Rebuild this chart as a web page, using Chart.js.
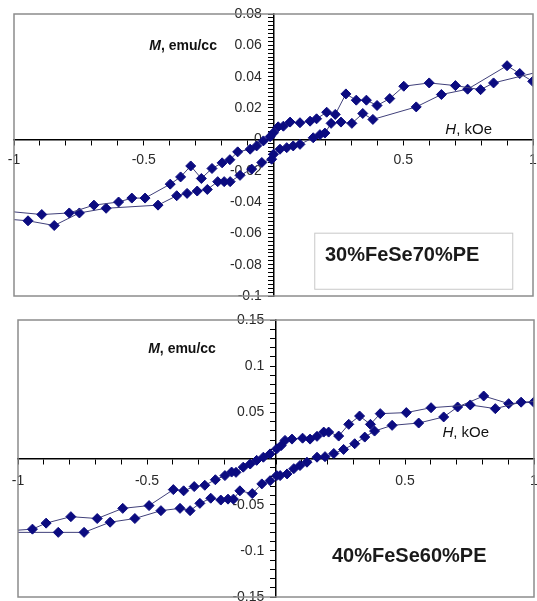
<!DOCTYPE html>
<html>
<head>
<meta charset="utf-8">
<script src="https://cdn.jsdelivr.net/npm/chart.js@4.4.1/dist/chart.umd.min.js"></script>
<style>
  html, body { margin: 0; padding: 0; background: #fff; overflow: hidden; }
  body { width: 537px; height: 601px; position: relative; }
  canvas { position: absolute; left: 0; }
  #topChart { top: 0; }
  #bottomChart { top: 300px; }
</style>
</head>
<body>
<canvas id="topChart" width="552" height="305"></canvas>
<canvas id="bottomChart" width="552" height="310"></canvas>
<script>
// 30%FeSe70%PE: branch coming down from +H (upper) and going up from -H (lower)
const topUpperH = [1.02, 0.848, 0.798, 0.701, 0.600, 0.502, 0.448, 0.399, 0.358, 0.319, 0.279, 0.238, 0.205, 0.166, 0.141, 0.102, 0.064, 0.038, 0.018, 0.0, -0.013, -0.039, -0.065, -0.09, -0.138, -0.168, -0.198, -0.237, -0.278, -0.319, -0.358, -0.398, -0.495, -0.546, -0.597, -0.692, -0.787, -0.893, -1.02];
const topUpperM = [0.043, 0.036, 0.0317, 0.0343, 0.036, 0.0339, 0.026, 0.0216, 0.025, 0.025, 0.029, 0.0159, 0.0173, 0.0131, 0.0116, 0.0106, 0.011, 0.0084, 0.008, 0.0042, 0.0017, -0.001, -0.0042, -0.0063, -0.008, -0.013, -0.015, -0.0186, -0.025, -0.017, -0.024, -0.0286, -0.0375, -0.0375, -0.040, -0.042, -0.047, -0.048, -0.046];
const topLowerH = [-1.02, -0.946, -0.845, -0.748, -0.645, -0.445, -0.373, -0.333, -0.294, -0.255, -0.215, -0.19, -0.167, -0.129, -0.084, -0.045, -0.007, 0.0, 0.025, 0.051, 0.076, 0.102, 0.153, 0.179, 0.198, 0.222, 0.26, 0.302, 0.344, 0.383, 0.550, 0.647, 0.748, 0.900, 0.949, 0.999, 1.02];
const topLowerM = [-0.051, -0.052, -0.055, -0.047, -0.044, -0.042, -0.036, -0.0345, -0.033, -0.032, -0.027, -0.027, -0.027, -0.023, -0.019, -0.0148, -0.0127, -0.0095, -0.0063, -0.0053, -0.0042, -0.0032, 0.001, 0.003, 0.004, 0.0102, 0.011, 0.0102, 0.0165, 0.0127, 0.0207, 0.0286, 0.032, 0.047, 0.042, 0.037, 0.036];

// 40%FeSe60%PE
const botUpperH = [1.02, 0.950, 0.85, 0.753, 0.601, 0.505, 0.404, 0.366, 0.324, 0.282, 0.243, 0.204, 0.185, 0.159, 0.132, 0.103, 0.062, 0.035, 0.02, 0.003, -0.023, -0.049, -0.075, -0.1, -0.127, -0.155, -0.172, -0.198, -0.235, -0.276, -0.317, -0.358, -0.398, -0.492, -0.594, -0.693, -0.795, -0.891, -0.944, -1.02];
const botUpperM = [0.062, 0.061, 0.054, 0.058, 0.055, 0.0497, 0.0486, 0.037, 0.046, 0.037, 0.0243, 0.0286, 0.0286, 0.024, 0.021, 0.022, 0.021, 0.0196, 0.014, 0.0105, 0.005, 0.0014, -0.002, -0.006, -0.0094, -0.015, -0.0147, -0.0185, -0.023, -0.029, -0.0304, -0.035, -0.0337, -0.051, -0.054, -0.065, -0.063, -0.070, -0.0765, -0.078];
const botLowerH = [-1.02, -0.844, -0.744, -0.643, -0.547, -0.446, -0.372, -0.333, -0.295, -0.253, -0.214, -0.186, -0.165, -0.14, -0.092, -0.055, -0.023, 0.003, 0.016, 0.043, 0.069, 0.093, 0.12, 0.159, 0.19, 0.224, 0.262, 0.305, 0.344, 0.382, 0.45, 0.553, 0.65, 0.704, 0.805, 0.902, 0.999, 1.02];
const botLowerM = [-0.080, -0.080, -0.080, -0.069, -0.065, -0.0565, -0.054, -0.0565, -0.0486, -0.043, -0.045, -0.044, -0.044, -0.035, -0.038, -0.0275, -0.024, -0.0185, -0.0185, -0.0167, -0.011, -0.0076, -0.004, 0.0014, 0.002, 0.0054, 0.0098, 0.016, 0.0232, 0.0297, 0.0359, 0.0384, 0.045, 0.0558, 0.0677, 0.0594, 0.061, 0.061];

// axis ranges / ticks
const xLabels = [-1, -0.5, 0.5, 1];
const topYLabels = [0.08, 0.06, 0.04, 0.02, 0, -0.02, -0.04, -0.06, -0.08, -0.1];
const botYLabels = [0.15, 0.1, 0.05, -0.05, -0.1, -0.15];
const sampleNames = ["30%FeSe70%PE", "40%FeSe60%PE"];

function pairs(xs, ys) {
  return xs.map((x, i) => ({ x: x, y: ys[i] }));
}

function hasLabel(list, v) {
  return list.some((l) => Math.abs(l - v) < 1e-6);
}

function series(data) {
  return {
    data: data,
    showLine: true,
    borderColor: "#40407a",
    borderWidth: 1,
    pointStyle: "rectRot",
    pointRadius: 5,
    pointBackgroundColor: "#0b0b80",
    pointBorderColor: "#0b0b80",
    pointBorderWidth: 1,
    clip: 0,
  };
}

// frame around plot area + the text notes drawn inside the plot
const notesPlugin = {
  id: "notes",
  afterDraw(chart) {
    const ctx = chart.ctx;
    const a = chart.chartArea;
    const n = chart.options.plugins.notes;
    const sx = chart.scales.x, sy = chart.scales.y;
    ctx.save();
    ctx.strokeStyle = "#8c8c8c";
    ctx.lineWidth = 1.5;
    ctx.strokeRect(a.left, a.top, a.right - a.left, a.bottom - a.top);

    ctx.fillStyle = "#111";
    ctx.textBaseline = "middle";
    // "M, emu/cc" right aligned
    ctx.font = "italic bold 14px 'Liberation Sans', Arial";
    const mW = ctx.measureText("M").width;
    ctx.font = "bold 14px 'Liberation Sans', Arial";
    const restW = ctx.measureText(", emu/cc").width;
    let px = sx.getPixelForValue(n.mAt[0]) - mW - restW;
    let py = sy.getPixelForValue(n.mAt[1]);
    ctx.textAlign = "left";
    ctx.font = "italic bold 14px 'Liberation Sans', Arial";
    ctx.fillText("M", px, py);
    ctx.font = "bold 14px 'Liberation Sans', Arial";
    ctx.fillText(", emu/cc", px + mW, py);

    // "H, kOe"
    ctx.font = "italic 15px 'Liberation Sans', Arial";
    const hW = ctx.measureText("H").width;
    ctx.font = "15px 'Liberation Sans', Arial";
    const hRest = ctx.measureText(", kOe").width;
    px = sx.getPixelForValue(n.hAt[0]) - hW - hRest;
    py = sy.getPixelForValue(n.hAt[1]);
    ctx.font = "italic 15px 'Liberation Sans', Arial";
    ctx.fillText("H", px, py);
    ctx.font = "15px 'Liberation Sans', Arial";
    ctx.fillText(", kOe", px + hW, py);

    if (n.box) {
      const bx1 = sx.getPixelForValue(n.box[0]), by1 = sy.getPixelForValue(n.box[1]);
      const bx2 = sx.getPixelForValue(n.box[2]), by2 = sy.getPixelForValue(n.box[3]);
      ctx.strokeStyle = "#c8c8c8";
      ctx.lineWidth = 1;
      ctx.strokeRect(bx1, by1, bx2 - bx1, by2 - by1);
    }
    ctx.fillStyle = "#1a1a1a";
    ctx.font = "bold 20px 'Liberation Sans', Arial";
    ctx.fillText(n.name, sx.getPixelForValue(n.nameAt[0]), sy.getPixelForValue(n.nameAt[1]));
    ctx.restore();
  },
};

function makeChart(id, upper, lower, yMin, yMax, yStep, yLabels, padding, xPad, notes) {
  const ctx = document.getElementById(id).getContext("2d");
  return new Chart(ctx, {
    type: "scatter",
    data: { datasets: [series(upper), series(lower)] },
    plugins: [notesPlugin],
    options: {
      responsive: false,
      animation: false,
      layout: { padding: padding },
      plugins: {
        legend: { display: false },
        tooltip: { enabled: false },
        notes: notes,
      },
      scales: {
        x: {
          type: "linear",
          position: { y: 0 },
          min: -1,
          max: 1,
          border: { color: "#000", width: 1.5 },
          grid: { drawOnChartArea: false, drawTicks: true, tickLength: 5, tickColor: "#000", tickWidth: 1 },
          ticks: {
            stepSize: 0.1,
            autoSkip: false,
            maxRotation: 0,
            color: "#2a2a2a",
            padding: xPad,
            font: { family: "'Liberation Sans', Arial", size: 14 },
            callback: (v) => (hasLabel(xLabels, v) ? String(parseFloat(v.toFixed(2))) : ""),
          },
        },
        y: {
          type: "linear",
          position: { x: 0 },
          min: yMin,
          max: yMax,
          border: { color: "#000", width: 1.5 },
          grid: { drawOnChartArea: false, drawTicks: true, tickLength: 5, tickColor: "#000", tickWidth: 1 },
          ticks: {
            stepSize: yStep,
            autoSkip: false,
            padding: 0,
            color: "#2a2a2a",
            font: { family: "'Liberation Sans', Arial", size: 14 },
            callback: (v) => (hasLabel(yLabels, v) ? String(parseFloat(v.toFixed(3))) + "   " : ""),
          },
        },
      },
    },
  });
}

makeChart("topChart", pairs(topUpperH, topUpperM), pairs(topLowerH, topLowerM),
  -0.1, 0.08, 0.0025, topYLabels,
  { left: 14, top: 14, right: 19, bottom: 9 }, 7,
  { mAt: [-0.218, 0.0597], hAt: [0.842, 0.0063], name: sampleNames[0], nameAt: [0.198, -0.0743], box: [0.159, -0.0599, 0.922, -0.0957] });

makeChart("bottomChart", pairs(botUpperH, botUpperM), pairs(botLowerH, botLowerM),
  -0.15, 0.15, 0.01, botYLabels,
  { left: 18, top: 20, right: 18, bottom: 13 }, 9,
  { mAt: [-0.233, 0.118], hAt: [0.826, 0.0283], name: sampleNames[1], nameAt: [0.217, -0.1065], box: null });
</script>
</body>
</html>
